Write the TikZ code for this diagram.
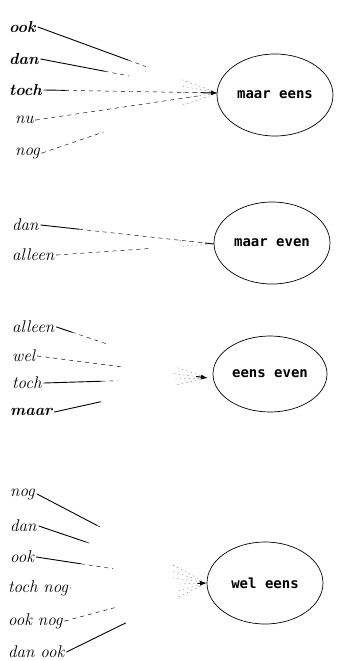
\documentclass[tikz,border=0pt]{standalone}
\usepackage{fontspec}
\usetikzlibrary{shapes.geometric,calc,arrows.meta}
\newfontfamily\monof{DejaVu Sans Mono}
\newcommand{\linkw}[4]{%
  \draw[solidln] (#1.east) -- ($(#1.east)!#3!(#2)$);
  \draw[dashln] ($(#1.east)!#3!(#2)$) -- ($(#1.east)!#4!(#2)$);
  \draw[dotln] ($(#1.east)!0.8!(#2)$) -- ($(#1.east)!0.97!(#2)$);
}
\begin{document}
\begin{tikzpicture}[x=1pt,y=-1pt,
  word/.style={font=\itshape\fontsize{17}{17}\selectfont, inner sep=2pt, anchor=west},
  bword/.style={word, font=\bfseries\itshape\fontsize{16}{16}\selectfont},
  oval/.style={ellipse, draw, line width=0.7pt, minimum width=116pt, minimum height=82pt,
    inner sep=0pt, font=\monof\bfseries\fontsize{14}{14}\selectfont},
  solidln/.style={line width=0.9pt, line cap=round},
  dashln/.style={line width=0.45pt, dash pattern=on 4pt off 4pt},
  dotln/.style={line width=0.4pt, gray, dash pattern=on 1.5pt off 3pt},
  tipln/.style={line width=1pt, -{Latex[length=7pt,width=5pt]}}
]
\useasboundingbox (0,0) rectangle (337,661);
\fill[white] (0,0) rectangle (337,661);

% group 1
\node[oval] (E1) at (275,95) {maar eens};
\coordinate (t1) at (218,93);
\node[bword] (a1) at (7,27) {ook};
\node[bword] (a2) at (7,59) {dan};
\node[bword] (a3) at (7,90) {toch};
\node[word] (a4) at (13,120) {nu};
\node[word] (a5) at (13,153) {nog};
\linkw{a1}{t1}{0.5}{0.6}
\linkw{a2}{t1}{0.36}{0.5}
\linkw{a3}{t1}{0.12}{0.95}
\linkw{a4}{t1}{0.0}{0.9}
\linkw{a5}{t1}{0.0}{0.35}
\draw[tipln] ($(a3.east)!0.9!(t1)$) -- (t1);

% group 2
\node[oval] (E2) at (272,243) {maar even};
\coordinate (t2) at (214,244);
\node[word] (b1) at (10,225) {dan};
\node[word] (b2) at (10,255) {alleen};
\linkw{b1}{t2}{0.22}{0.95}
\linkw{b2}{t2}{0.0}{0.6}
\draw[solidln] ($(b1.east)!0.95!(t2)$) -- (t2);

% group 3
\node[oval, minimum width=114pt, minimum height=76pt] (E3) at (270,374) {eens even};
\coordinate (t3) at (208,378);
\node[word] (c1) at (10,327) {alleen};
\node[word] (c2) at (10,356) {wel};
\node[word] (c3) at (10,383) {toch};
\node[bword] (c4) at (8,412) {maar};
\linkw{c1}{t3}{0.1}{0.35}
\linkw{c2}{t3}{0.0}{0.5}
\linkw{c3}{t3}{0.35}{0.45}
\linkw{c4}{t3}{0.3}{0.3}
\draw[tipln] ($(c2.east)!0.93!(t3)$) -- (t3);

% group 4
\node[oval] (E4) at (265,583) {wel eens};
\coordinate (t4) at (207,583);
\node[word] (d1) at (8,494) {nog};
\node[word] (d2) at (8,526) {dan};
\node[word] (d3) at (8,557) {ook};
\node[word] (d4) at (6,588) {toch nog};
\node[word] (d5) at (6,621) {ook nog};
\node[word] (d6) at (6,652) {dan ook};
\linkw{d1}{t4}{0.35}{0.38}
\linkw{d2}{t4}{0.28}{0.3}
\linkw{d3}{t4}{0.26}{0.45}
\linkw{d4}{t4}{0.0}{0.0}
\linkw{d5}{t4}{0.0}{0.35}
\linkw{d6}{t4}{0.42}{0.42}
\draw[tipln] ($(d4.east)!0.93!(t4)$) -- (t4);
\end{tikzpicture}
\end{document}
